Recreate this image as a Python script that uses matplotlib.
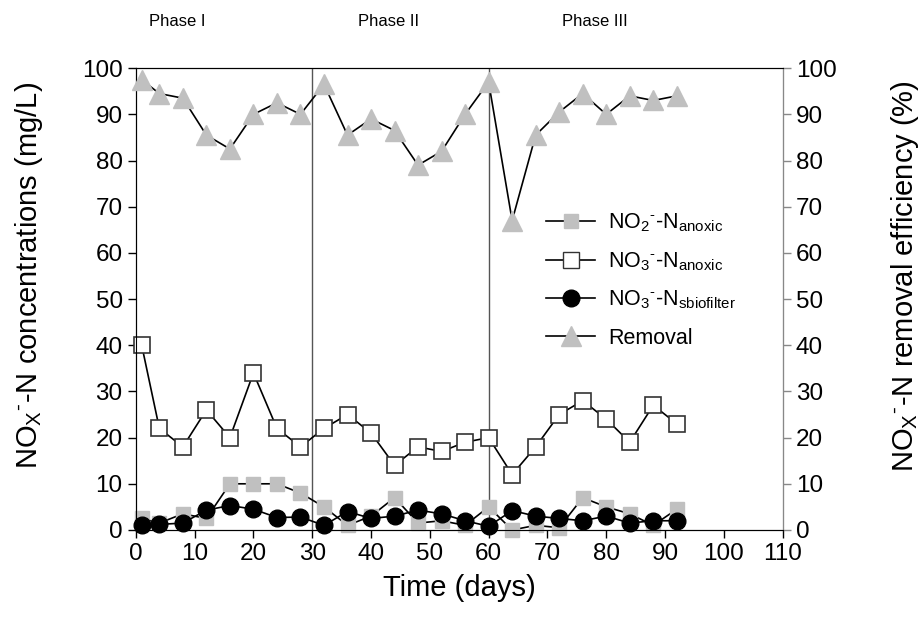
import numpy as np
import matplotlib
matplotlib.use('Agg')
import matplotlib.pyplot as plt
from matplotlib.lines import Line2D

plt.rcParams['font.family'] = ['Liberation Sans', 'DejaVu Sans']
plt.rcParams['mathtext.fontset'] = 'custom'
plt.rcParams['mathtext.rm'] = 'Liberation Sans'
plt.rcParams['mathtext.it'] = 'Liberation Sans'

# sampling days
days = [1, 4, 8, 12, 16, 20, 24, 28, 32, 36, 40, 44, 48, 52, 56, 60,
        64, 68, 72, 76, 80, 84, 88, 92]

# concentrations (mg/L)
no2_anoxic = [2.5, 1.5, 3.5, 2.5, 10, 10, 10, 8, 5, 1, 3, 7, 1.5, 2, 1, 5,
              0, 1, 0.5, 7, 5, 3.5, 1, 4.5]
no3_anoxic = [40, 22, 18, 26, 20, 34, 22, 18, 22, 25, 21, 14, 18, 17, 19, 20,
              12, 18, 25, 28, 24, 19, 27, 23]
no3_sbiofilter = [1, 1.2, 1.5, 4.3, 5.3, 4.5, 2.7, 2.8, 1, 4, 2.5, 3, 4.3, 3.5, 2, 0.8,
                  4.2, 3, 2.5, 2, 3, 1.5, 2, 2]

# removal efficiency (%)
removal = [97.5, 94.5, 93.5, 85.5, 82.5, 90, 92.5, 90, 96.5, 85.5, 89, 86.5, 79, 82, 90, 97,
           67, 85.5, 90.5, 94.5, 90, 94, 93, 94]

phase_names = ['Phase I', 'Phase II', 'Phase III']
phase_x = [7, 43, 78]
phase_bounds = [30, 60]

grey = '#c0c0c0'

fig = plt.figure(figsize=(9.24, 6.37), dpi=100)
ax = fig.add_axes([0.147, 0.168, 0.700, 0.725])
ax2 = ax.twinx()

ax.plot(days, no2_anoxic, color='black', lw=1.2, marker='s', ms=10,
        mfc=grey, mec=grey, clip_on=False, zorder=3)
ax.plot(days, no3_anoxic, color='black', lw=1.2, marker='s', ms=11,
        mfc='white', mec='#333333', mew=1.2, clip_on=False, zorder=3)
ax.plot(days, no3_sbiofilter, color='black', lw=1.2, marker='o', ms=12,
        mfc='black', mec='black', clip_on=False, zorder=4)
ax2.plot(days, removal, color='black', lw=1.2, marker='^', ms=14,
         mfc=grey, mec=grey, clip_on=False, zorder=3)

for b in phase_bounds:
    ax.axvline(b, color='#555555', lw=1.0)

ax.set_xlim(0, 110)
ax.set_ylim(0, 100)
ax2.set_ylim(0, 100)
ax.set_xticks(np.arange(0, 111, 10))
ax.set_yticks(np.arange(0, 101, 10))
ax2.set_yticks(np.arange(0, 101, 10))

ax.tick_params(axis='both', direction='out', length=6, labelsize=17.5, width=1)
ax2.tick_params(axis='y', direction='out', length=6, labelsize=17.5, width=1,
                color='#888888')
ax2.spines['right'].set_color('#888888')

ax.set_xlabel('Time (days)', fontsize=21, labelpad=6)
ax.set_ylabel(r'NO$_X$$^{\text{-}}$-N concentrations (mg/L)', fontsize=21)
ax2.set_ylabel(r'NO$_X$$^{\text{-}}$-N removal efficiency (%)', fontsize=21)
ax.yaxis.set_label_coords(-0.14, 0.55)
ax2.yaxis.set_label_coords(1.165, 0.55)

for name, px in zip(phase_names, phase_x):
    ax.text(px, 110, name, fontsize=12, ha='center', va='center')

handles = [
    Line2D([], [], color='black', lw=1.2, marker='s', ms=10, mfc=grey, mec=grey),
    Line2D([], [], color='black', lw=1.2, marker='s', ms=11, mfc='white', mec='#333333'),
    Line2D([], [], color='black', lw=1.2, marker='o', ms=12, mfc='black', mec='black'),
    Line2D([], [], color='black', lw=1.2, marker='^', ms=14, mfc=grey, mec=grey),
]
labels = [r'NO$_2$$^{\text{-}}$-N$_{\mathrm{anoxic}}$',
          r'NO$_3$$^{\text{-}}$-N$_{\mathrm{anoxic}}$',
          r'NO$_3$$^{\text{-}}$-N$_{\mathrm{sbiofilter}}$',
          'Removal']
ax2.legend(handles, labels, loc='upper left', bbox_to_anchor=(0.634, 0.69),
           frameon=False, fontsize=15.5, handlelength=2.3, handletextpad=0.6,
           labelspacing=0.75, borderpad=0, borderaxespad=0)

fig.savefig('out.png', dpi=100)
